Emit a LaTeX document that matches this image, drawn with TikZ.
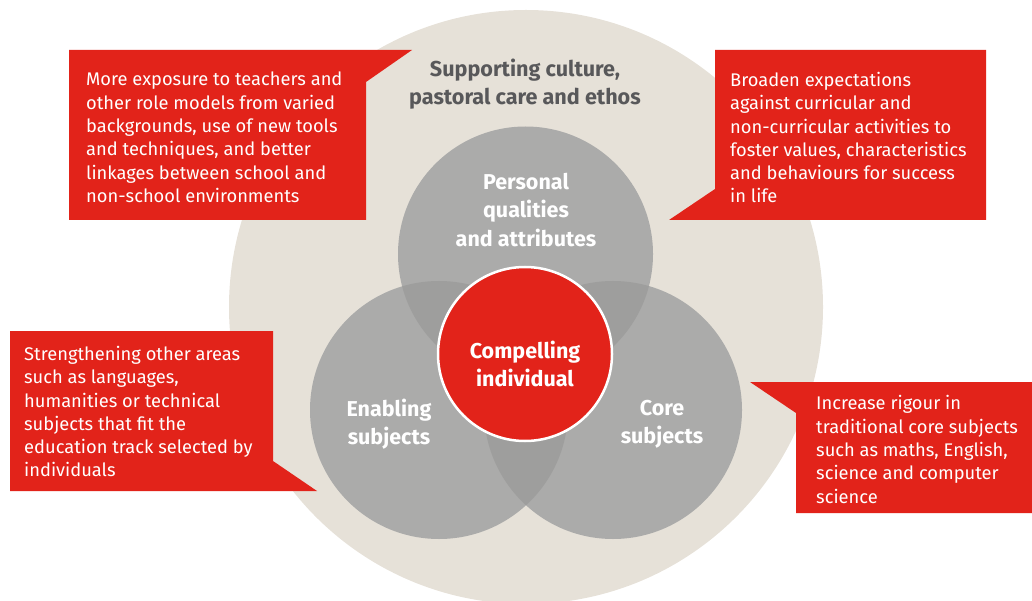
\documentclass[tikz,border=0pt]{standalone}
\usepackage{fontspec}
\setmainfont{Fira Sans}
\definecolor{cred}{HTML}{E2231A}
\definecolor{cbeige}{HTML}{E6E1D8}
\definecolor{cgray}{HTML}{ABABAA}
\definecolor{cover}{HTML}{9E9E9D}
\definecolor{ctitle}{HTML}{58585A}
\tikzset{
  callout/.style={fill=cred, draw=none},
  calltext/.style={anchor=north west, inner sep=0pt, align=left, text=white,
    font=\fontsize{18.3}{23.3}\selectfont},
  circlabel/.style={inner sep=0pt, align=center, text=white,
    font=\bfseries\fontsize{21.5}{28.5}\selectfont},
}
\begin{document}
\begin{tikzpicture}[x=1pt,y=-1pt]
\useasboundingbox (0,0) rectangle (1032,601);
\clip (0,0) rectangle (1032,601);
% outer beige circle
\fill[cbeige] (526,307) circle[radius=297pt];
% gray circles
\fill[cgray] (525.5,254) circle[radius=127.5pt];
\fill[cgray] (439,410) circle[radius=129pt];
\fill[cgray] (613,410) circle[radius=129pt];
% overlaps
\begin{scope}
  \clip (525.5,254) circle[radius=127.5pt];
  \fill[cover] (439,410) circle[radius=129pt];
  \fill[cover] (613,410) circle[radius=129pt];
\end{scope}
\begin{scope}
  \clip (439,410) circle[radius=129pt];
  \fill[cover] (613,410) circle[radius=129pt];
\end{scope}
% centre
\node[circle, fill=cred, draw=white, line width=2.5pt, minimum size=174pt, inner sep=0pt] (ci) at (525,354) {};
\node[circlabel] (cit) at (525,364) {Compelling\\individual};
\node[circlabel] (pq) at (526,210) {Personal\\qualities\\and attributes};
\node[circlabel] (es) at (389,424) {Enabling\\subjects};
\node[circlabel] (cs) at (662,424) {Core\\subjects};
\node[inner sep=0pt, align=center, text=ctitle, font=\bfseries\fontsize{21.6}{28}\selectfont] (title) at (525,84) {Supporting culture,\\pastoral care and ethos};
% callouts
\fill[callout] (69,50) -- (412,50) -- (366,82) -- (366,220) -- (69,220) -- cycle;
\fill[callout] (715,50) -- (986,50) -- (986,220) -- (669,220) -- (715,189) -- cycle;
\fill[callout] (10,331) -- (273,331) -- (273,461) -- (317,491) -- (10,491) -- cycle;
\fill[callout] (750,382) -- (1032,382) -- (1032,513) -- (796,513) -- (796,413) -- cycle;
\node[calltext] (t1) at (86,72) {More exposure to teachers and\\other role models from varied\\backgrounds, use of new tools\\and techniques, and better\\linkages between school and\\non-school environments};
\node[calltext] (t2) at (730,72) {Broaden expectations\\against curricular and\\non-curricular activities to\\foster values, characteristics\\and behaviours for success\\in life};
\node[calltext] (t3) at (24,346) {Strengthening other areas\\such as languages,\\humanities or technical\\subjects that fit the\\education track selected by\\individuals};
\node[calltext] (t4) at (816,395.5) {Increase rigour in\\traditional core subjects\\such as maths, English,\\science and computer\\science};
\end{tikzpicture}
\end{document}
